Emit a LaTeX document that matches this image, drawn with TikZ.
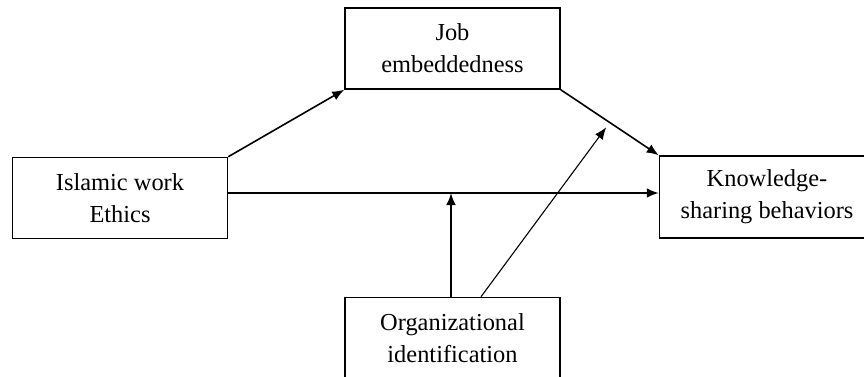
\documentclass[tikz,border=0pt]{standalone}
\usepackage{fontspec}
\setmainfont{Liberation Serif}
\usepackage{tikz}
\usetikzlibrary{arrows.meta, calc, positioning}

\tikzset{
	varbox/.style={draw, line width=0.75pt, minimum width=107.5pt, minimum height=40.5pt,
		align=center, font=\fontsize{12.2}{16}\selectfont},
	path arrow/.style={-{Latex[length=6pt,width=4.8pt]}, line width=0.8pt},
	thin arrow/.style={-{Latex[length=6pt,width=4.8pt]}, line width=0.55pt}
}

\begin{document}
\begin{tikzpicture}[x=0.5pt, y=0.5pt]
				\useasboundingbox (0,0) rectangle (864,376);
				
				\node[varbox] (JE) at (452.5,327.5) {Job\\embeddedness};
				\node[varbox] (IWE) at (120,178) {Islamic work\\Ethics};
				\node[varbox, minimum height=41pt] (KSB) at (767,179) {Knowledge-\\sharing behaviors};
				\node[varbox] (OI) at (452.5,38) {Organizational\\identification};
				
				% mediation paths
				\draw[path arrow] (IWE.north east)--(JE.south west);
				\draw[path arrow] (JE.south east)--(KSB.north west);
				\coordinate (mid) at ($(JE.south east)!0.5!(KSB.north west)$);
				
				% direct path
				\draw[path arrow] ([yshift=2.5pt]IWE.east)--([yshift=2.5pt]IWE.east -| KSB.west);
				
				% moderation
				\draw[path arrow] ([xshift=-0.75pt]OI.north)--([xshift=-0.75pt,yshift=2.5pt]OI.north |- IWE.east);
				\draw[thin arrow, shorten >=3pt] ([xshift=14.25pt]OI.north)--(mid);
			\end{tikzpicture}
\end{document}
